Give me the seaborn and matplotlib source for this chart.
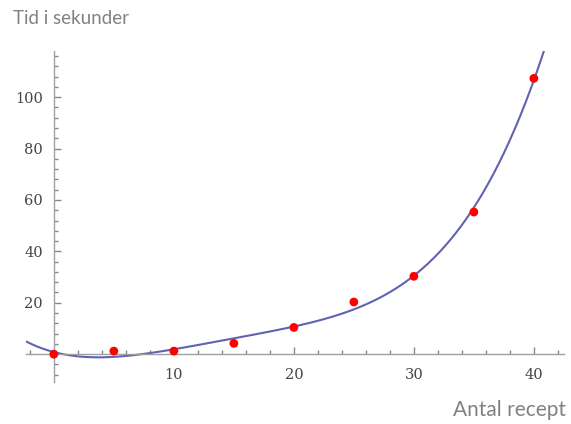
import matplotlib
matplotlib.use("Agg")
import matplotlib.pyplot as plt
from matplotlib.ticker import MultipleLocator, FixedLocator
import seaborn as sns
import pandas as pd

# antal recept vs tid (sekunder)
antal = [0, 5, 10, 15, 20, 25, 30, 35, 40]
tid = [0, 1.2, 1.2, 4.2, 10.4, 20.3, 30.3, 55.3, 107.3]
x_ticks = [10, 20, 30, 40]
y_ticks = [20, 40, 60, 80, 100]

df = pd.DataFrame({"antal": antal, "tid": tid})

sns.set_style("white")
fig = plt.figure(figsize=(5.71, 4.24), dpi=100)
ax = fig.add_axes([0.046, 0.098, 0.9415, 0.782])
ax.set_xlim(-2.3, 42.5)
ax.set_ylim(-11, 118)

# fitted curve (polynomial fit of the points)
sns.regplot(data=df, x="antal", y="tid", order=4, ci=None, truncate=False,
            scatter=False, ax=ax,
            line_kws={"color": "#6262b2", "lw": 1.5})
sns.scatterplot(data=df, x="antal", y="tid", color="red", s=40,
                edgecolor="none", ax=ax, zorder=5)

# Mathematica-style axes crossing at origin
for side in ["top", "right"]:
    ax.spines[side].set_visible(False)
ax.spines["left"].set_position(("data", 0))
ax.spines["bottom"].set_position(("data", 0))
for side in ["left", "bottom"]:
    ax.spines[side].set_color("#a0a0a0")
    ax.spines[side].set_linewidth(1.0)

ax.xaxis.set_major_locator(FixedLocator(x_ticks))
ax.xaxis.set_minor_locator(MultipleLocator(2))
ax.yaxis.set_major_locator(FixedLocator(y_ticks))
ax.yaxis.set_minor_locator(MultipleLocator(4))
ax.tick_params(which="both", direction="in", color="#888888", width=1.0,
               bottom=True, left=True)
ax.tick_params(which="major", length=5)
ax.tick_params(which="minor", length=3)
ax.tick_params(axis="x", which="major", pad=10)
ax.tick_params(axis="y", which="major", pad=8)
for lab in ax.get_xticklabels() + ax.get_yticklabels():
    lab.set_fontfamily("DejaVu Serif")
    lab.set_fontsize(10.5)
    lab.set_color("#444444")

ax.set_xlabel("")
ax.set_ylabel("")
fig.text(13 / 571, 1 - 19 / 424, "Tid i sekunder", fontsize=13.5, family="Lato",
         color="#858080", ha="left", va="center")
fig.text(566 / 571, 1 - 410 / 424, "Antal recept", fontsize=15, family="Lato",
         color="#858080", ha="right", va="center")

fig.savefig("out.png", dpi=100)
